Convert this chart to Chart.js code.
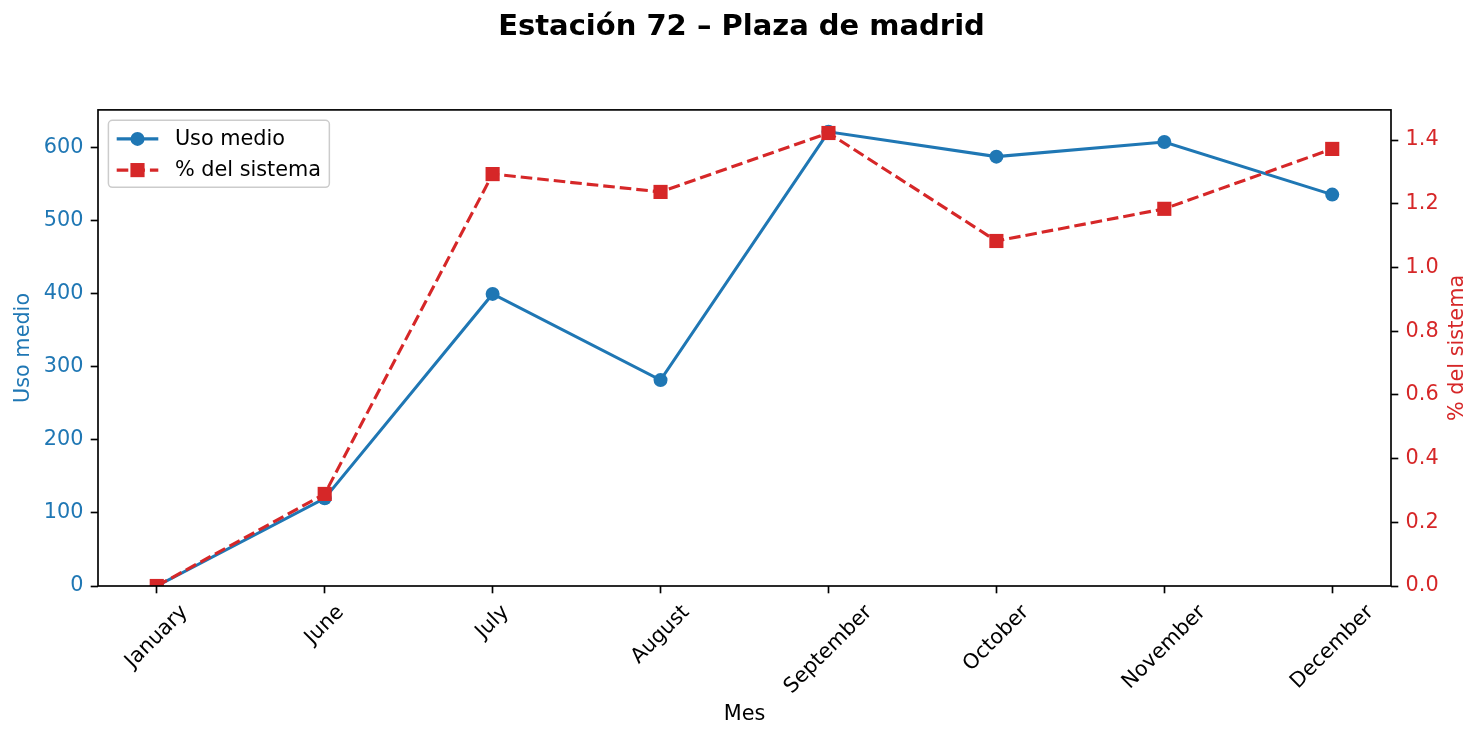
<!DOCTYPE html>
<html>
<head>
<meta charset="utf-8">
<script src="https://cdn.jsdelivr.net/npm/chart.js@4"></script>
<style>
body { margin: 0; background: #fff; }
#wrap { width: 1483px; height: 740px; }
</style>
</head>
<body>
<div id="wrap"><canvas id="stationChart"></canvas></div>
<script>
var months = ['January', 'June', 'July', 'August', 'September', 'October', 'November', 'December'];
var usoMedio = [0, 120, 400, 282, 622, 588, 608, 536];
var pctSistema = [0, 0.289, 1.293, 1.237, 1.422, 1.083, 1.184, 1.372];
var leftTicks = [0, 100, 200, 300, 400, 500, 600];
var rightTicks = [0, 0.2, 0.4, 0.6, 0.8, 1.0, 1.2, 1.4];

var BLUE = '#1f77b4';
var RED = '#d62728';
var FONT = "'DejaVu Sans', sans-serif";
var FS = 20.8;

Chart.defaults.font.family = FONT;
Chart.defaults.font.size = FS;

function toPoints(arr) {
    return arr.map(function(v, i) { return { x: i, y: v }; });
}

var tickGrid = {
    drawOnChartArea: false,
    drawTicks: true,
    tickLength: 7.3,
    tickWidth: 1.67,
    tickColor: '#000'
};

// frame, rotated month labels, right axis title and legend
var extras = {
    id: 'extras',
    afterDraw: function(chart) {
        var ctx = chart.ctx;
        var area = chart.chartArea;
        var xs = chart.scales.x;
        ctx.save();

        ctx.strokeStyle = '#000';
        ctx.lineWidth = 1.67;
        ctx.strokeRect(area.left, area.top, area.right - area.left, area.bottom - area.top);

        ctx.font = FS + 'px ' + FONT;
        ctx.fillStyle = '#000';
        ctx.textAlign = 'center';
        ctx.textBaseline = 'middle';
        months.forEach(function(m, i) {
            var w = ctx.measureText(m).width;
            var size = (w + 24) * Math.SQRT1_2;
            var px = xs.getPixelForValue(i);
            var py = area.bottom + 14.6 + size / 2;
            ctx.save();
            ctx.translate(px, py);
            ctx.rotate(-Math.PI / 4);
            ctx.fillText(m, 0, 0);
            ctx.restore();
        });

        ctx.fillStyle = RED;
        ctx.save();
        ctx.translate(chart.scales.y2.right - 25, (area.top + area.bottom) / 2);
        ctx.rotate(-Math.PI / 2);
        ctx.fillText('% del sistema', 0, 0);
        ctx.restore();

        // legend
        var bx = area.left + 10.4, by = area.top + 10.4;
        var sets = chart.data.datasets;
        var textW = Math.max.apply(null, sets.map(function(d) { return ctx.measureText(d.label).width; }));
        var bw = 8.3 + 41.6 + 16.6 + textW + 8.3;
        var bh = 67;
        ctx.beginPath();
        ctx.roundRect(bx, by, bw, bh, 4);
        ctx.fillStyle = 'rgba(255,255,255,0.8)';
        ctx.fill();
        ctx.strokeStyle = '#cccccc';
        ctx.lineWidth = 1.5;
        ctx.stroke();

        sets.forEach(function(d, i) {
            var ry = by + 18.6 + i * 31.2;
            var hx = bx + 8.3;
            ctx.strokeStyle = d.borderColor;
            ctx.lineWidth = d.borderWidth;
            ctx.setLineDash(d.borderDash || []);
            ctx.beginPath();
            ctx.moveTo(hx, ry);
            ctx.lineTo(hx + 41.6, ry);
            ctx.stroke();
            ctx.setLineDash([]);
            ctx.fillStyle = d.borderColor;
            var cx = hx + 20.8;
            if (d.pointStyle === 'rect') {
                var s = d.pointRadius * Math.SQRT1_2;
                ctx.fillRect(cx - s, ry - s, 2 * s, 2 * s);
            } else {
                ctx.beginPath();
                ctx.arc(cx, ry, d.pointRadius, 0, Math.PI * 2);
                ctx.fill();
            }
            ctx.fillStyle = '#000';
            ctx.textAlign = 'left';
            ctx.fillText(d.label, hx + 41.6 + 16.6, ry + 1);
        });

        ctx.restore();
    }
};

var ctx = document.getElementById('stationChart').getContext('2d');
var stationChart = new Chart(ctx, {
    type: 'line',
    data: {
        datasets: [{
            label: 'Uso medio',
            data: toPoints(usoMedio),
            yAxisID: 'y',
            borderColor: BLUE,
            backgroundColor: BLUE,
            borderWidth: 3.1,
            pointStyle: 'circle',
            pointRadius: 7,
            pointBorderWidth: 0,
            pointBackgroundColor: BLUE,
            tension: 0,
            order: 2
        }, {
            label: '% del sistema',
            data: toPoints(pctSistema),
            yAxisID: 'y2',
            borderColor: RED,
            backgroundColor: RED,
            borderWidth: 3.1,
            borderDash: [11.6, 5],
            pointStyle: 'rect',
            pointRadius: 10,
            pointBorderWidth: 0,
            pointBackgroundColor: RED,
            tension: 0,
            order: 1
        }]
    },
    options: {
        responsive: true,
        maintainAspectRatio: false,
        animation: false,
        events: [],
        layout: { padding: 0 },
        scales: {
            x: {
                type: 'linear',
                min: -0.35,
                max: 7.35,
                afterBuildTicks: function(scale) {
                    scale.ticks = months.map(function(m, i) { return { value: i }; });
                },
                afterFit: function(scale) { scale.height = 154; },
                ticks: { display: false },
                grid: tickGrid,
                border: { display: false },
                title: {
                    display: true,
                    text: 'Mes',
                    color: '#000',
                    font: { size: FS },
                    padding: { top: 0, bottom: 12.5 }
                }
            },
            y: {
                position: 'left',
                min: 0,
                max: 652,
                afterBuildTicks: function(scale) {
                    scale.ticks = leftTicks.map(function(v) { return { value: v }; });
                },
                afterFit: function(scale) { scale.width = 98; },
                ticks: {
                    color: BLUE,
                    padding: 7.3,
                    callback: function(v) { return String(v); }
                },
                grid: tickGrid,
                border: { display: false },
                title: {
                    display: true,
                    text: 'Uso medio',
                    color: BLUE,
                    font: { size: FS },
                    padding: { top: 11.5, bottom: 0 }
                }
            },
            y2: {
                position: 'right',
                min: 0,
                max: 1.4945,
                afterBuildTicks: function(scale) {
                    scale.ticks = rightTicks.map(function(v) { return { value: v }; });
                },
                afterFit: function(scale) { scale.width = 92; },
                ticks: {
                    color: RED,
                    padding: 7.3,
                    callback: function(v) { return Number(v).toFixed(1); }
                },
                grid: tickGrid,
                border: { display: false }
            }
        },
        plugins: {
            legend: { display: false },
            tooltip: { enabled: false },
            title: {
                display: true,
                text: 'Estación 72 – Plaza de madrid',
                color: '#000',
                font: { size: 29, weight: 'bold' },
                padding: { top: 10.5, bottom: 64.6 }
            }
        }
    },
    plugins: [extras]
});
</script>
</body>
</html>
